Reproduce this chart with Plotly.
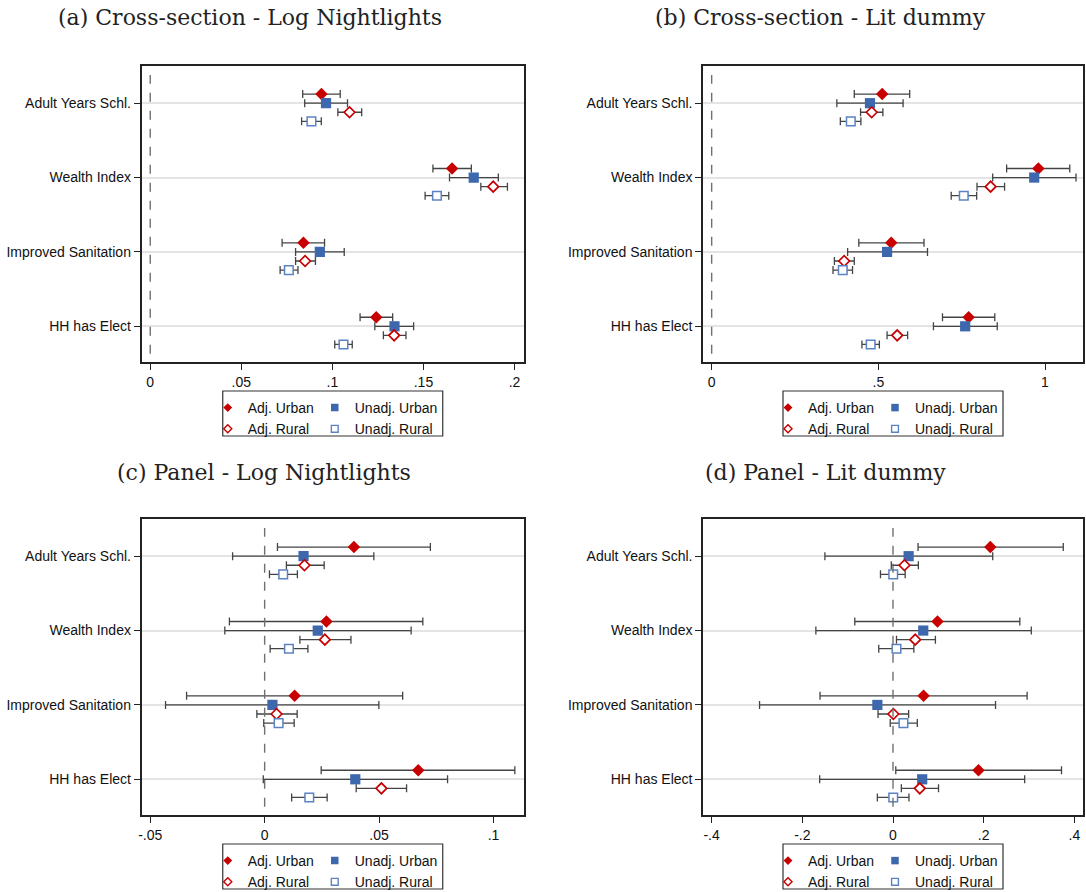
import plotly.graph_objects as go

# ---- data -------------------------------------------------------------
categories = ["Adult Years Schl.", "Wealth Index", "Improved Sanitation", "HH has Elect"]
series_names = ["Adj. Urban", "Unadj. Urban", "Adj. Rural", "Unadj. Rural"]

# (a) Cross-section - Log Nightlights
a_adj_urban = [0.0940, 0.1657, 0.0841, 0.1241]
a_adj_urban_lo = [0.0837, 0.1552, 0.0724, 0.1152]
a_adj_urban_hi = [0.1043, 0.1763, 0.0957, 0.1331]
a_unadj_urban = [0.0965, 0.1776, 0.0931, 0.1341]
a_unadj_urban_lo = [0.0848, 0.1643, 0.0798, 0.1233]
a_unadj_urban_hi = [0.1083, 0.1911, 0.1065, 0.1446]
a_adj_rural = [0.1094, 0.1883, 0.0850, 0.1339]
a_adj_rural_lo = [0.1030, 0.1815, 0.0798, 0.1280]
a_adj_rural_hi = [0.1161, 0.1961, 0.0907, 0.1404]
a_unadj_rural = [0.0885, 0.1574, 0.0761, 0.1061]
a_unadj_rural_lo = [0.0831, 0.1509, 0.0713, 0.1013]
a_unadj_rural_hi = [0.0939, 0.1639, 0.0811, 0.1109]

# (b) Cross-section - Lit dummy
b_adj_urban = [0.5115, 0.9801, 0.5387, 0.7709]
b_adj_urban_lo = [0.4278, 0.8849, 0.4414, 0.6925]
b_adj_urban_hi = [0.5941, 1.0743, 0.6370, 0.8494]
b_unadj_urban = [0.4749, 0.9676, 0.5262, 0.7605]
b_unadj_urban_lo = [0.3755, 0.8431, 0.4079, 0.6653]
b_unadj_urban_hi = [0.5743, 1.0931, 0.6475, 0.8567]
b_adj_rural = [0.4801, 0.8368, 0.3975, 0.5565]
b_adj_rural_lo = [0.4467, 0.7960, 0.3682, 0.5262]
b_adj_rural_hi = [0.5136, 0.8787, 0.4278, 0.5879]
b_unadj_rural = [0.4174, 0.7563, 0.3933, 0.4770]
b_unadj_rural_lo = [0.3860, 0.7186, 0.3640, 0.4508]
b_unadj_rural_hi = [0.4477, 0.7950, 0.4226, 0.5031]

# (c) Panel - Log Nightlights
c_adj_urban = [0.0390, 0.0270, 0.0131, 0.0671]
c_adj_urban_lo = [0.0056, -0.0154, -0.0341, 0.0247]
c_adj_urban_hi = [0.0724, 0.0691, 0.0603, 0.1093]
c_unadj_urban = [0.0170, 0.0232, 0.0034, 0.0396]
c_unadj_urban_lo = [-0.0140, -0.0174, -0.0433, -0.0006]
c_unadj_urban_hi = [0.0477, 0.0640, 0.0499, 0.0799]
c_adj_rural = [0.0174, 0.0263, 0.0052, 0.0510]
c_adj_rural_lo = [0.0095, 0.0154, -0.0034, 0.0400]
c_adj_rural_hi = [0.0260, 0.0377, 0.0142, 0.0620]
c_unadj_rural = [0.0081, 0.0106, 0.0061, 0.0195]
c_unadj_rural_lo = [0.0021, 0.0024, -0.0004, 0.0118]
c_unadj_rural_hi = [0.0143, 0.0189, 0.0129, 0.0273]

# (d) Panel - Lit dummy
d_adj_urban = [0.2146, 0.0981, 0.0674, 0.1885]
d_adj_urban_lo = [0.0552, -0.0843, -0.1609, 0.0061]
d_adj_urban_hi = [0.3755, 0.2797, 0.2958, 0.3716]
d_unadj_urban = [0.0345, 0.0667, -0.0345, 0.0644]
d_unadj_urban_lo = [-0.1502, -0.1701, -0.2943, -0.1617]
d_unadj_urban_hi = [0.2199, 0.3050, 0.2261, 0.2904]
d_adj_rural = [0.0253, 0.0490, 0.0008, 0.0590]
d_adj_rural_lo = [-0.0038, 0.0077, -0.0330, 0.0184]
d_adj_rural_hi = [0.0559, 0.0935, 0.0345, 0.1004]
d_unadj_rural = [0.0005, 0.0077, 0.0230, 0.0005]
d_unadj_rural_lo = [-0.0276, -0.0314, -0.0061, -0.0345]
d_unadj_rural_hi = [0.0268, 0.0460, 0.0536, 0.0352]

# axis ticks
a_ticks = [0, 0.05, 0.1, 0.15, 0.2]
a_ticklabels = ["0", ".05", ".1", ".15", ".2"]
b_ticks = [0, 0.5, 1]
b_ticklabels = ["0", ".5", "1"]
c_ticks = [-0.05, 0, 0.05, 0.1]
c_ticklabels = ["-.05", "0", ".05", ".1"]
d_ticks = [-0.4, -0.2, 0, 0.2, 0.4]
d_ticklabels = ["-.4", "-.2", "0", ".2", ".4"]

# ---- layout geometry (pixels) ---------------------------------------
W, H = 1086, 892
RED = "#c80000"
BLUE = "#3d68ad"
LBLUE = "#5b82c2"
BAR = "#444444"
SANS = "Liberation Sans, Arial, sans-serif"
SERIF = "DejaVu Serif, serif"


def px_x(p):
    return p / W


def px_y(p):
    return 1 - p / H


panels = [
    dict(title="(a) Cross-section - Log Nightlights",
         series=[(a_adj_urban, a_adj_urban_lo, a_adj_urban_hi),
                 (a_unadj_urban, a_unadj_urban_lo, a_unadj_urban_hi),
                 (a_adj_rural, a_adj_rural_lo, a_adj_rural_hi),
                 (a_unadj_rural, a_unadj_rural_lo, a_unadj_rural_hi)],
         xrange=[-0.0048, 0.2052], ticks=a_ticks, labels=a_ticklabels,
         box=(141.5, 66, 524, 362), title_x=250, title_y=18, leg_top=391),
    dict(title="(b) Cross-section - Lit dummy",
         series=[(b_adj_urban, b_adj_urban_lo, b_adj_urban_hi),
                 (b_unadj_urban, b_unadj_urban_lo, b_unadj_urban_hi),
                 (b_adj_rural, b_adj_rural_lo, b_adj_rural_hi),
                 (b_unadj_rural, b_unadj_rural_lo, b_unadj_rural_hi)],
         xrange=[-0.026, 1.114], ticks=b_ticks, labels=b_ticklabels,
         box=(703, 66, 1083, 362), title_x=820, title_y=18, leg_top=391),
    dict(title="(c) Panel - Log Nightlights",
         series=[(c_adj_urban, c_adj_urban_lo, c_adj_urban_hi),
                 (c_unadj_urban, c_unadj_urban_lo, c_unadj_urban_hi),
                 (c_adj_rural, c_adj_rural_lo, c_adj_rural_hi),
                 (c_unadj_rural, c_unadj_rural_lo, c_unadj_rural_hi)],
         xrange=[-0.0538, 0.1133], ticks=c_ticks, labels=c_ticklabels,
         box=(141.5, 519, 524, 815), title_x=264, title_y=472, leg_top=844),
    dict(title="(d) Panel - Lit dummy",
         series=[(d_adj_urban, d_adj_urban_lo, d_adj_urban_hi),
                 (d_unadj_urban, d_unadj_urban_lo, d_unadj_urban_hi),
                 (d_adj_rural, d_adj_rural_lo, d_adj_rural_hi),
                 (d_unadj_rural, d_unadj_rural_lo, d_unadj_rural_hi)],
         xrange=[-0.419, 0.419], ticks=d_ticks, labels=d_ticklabels,
         box=(703, 519, 1083, 815), title_x=825, title_y=472, leg_top=844),
]

# marker style and vertical offset for each series
styles = [
    dict(symbol="diamond", size=9.6, fill=RED, edge=RED, lw=0, off=0.122, col=0),
    dict(symbol="square", size=10.2, fill=BLUE, edge=BLUE, lw=0, off=0.0, col=1),
    dict(symbol="diamond", size=8.2, fill="white", edge=RED, lw=1.7, off=-0.122, col=0),
    dict(symbol="square", size=8.6, fill="white", edge=LBLUE, lw=1.5, off=-0.244, col=1),
]
legend_sizes = [6.8, 7.5, 6.2, 6.8]

cat_pos = [3, 2, 1, 0]

fig = go.Figure()
layout = dict(width=W, height=H, margin=dict(l=0, r=0, t=0, b=0, autoexpand=False),
              paper_bgcolor="white", plot_bgcolor="white",
              font=dict(family=SANS, size=14, color="#111"))
shapes = []
annotations = []

for i, p in enumerate(panels):
    n = i + 1
    xa = "x" if n == 1 else f"x{n}"
    ya = "y" if n == 1 else f"y{n}"
    xkey = "xaxis" if n == 1 else f"xaxis{n}"
    ykey = "yaxis" if n == 1 else f"yaxis{n}"
    x0, y0, x1, y1 = p["box"]

    for k, ((est, lo, hi), st) in enumerate(zip(p["series"], styles)):
        fig.add_trace(go.Scatter(
            x=est,
            y=[c + st["off"] for c in cat_pos],
            mode="markers",
            name=series_names[k],
            marker=dict(symbol=st["symbol"], size=st["size"], color=st["fill"],
                        line=dict(width=st["lw"], color=st["edge"])),
            error_x=dict(type="data", symmetric=False,
                         array=[h - e for h, e in zip(hi, est)],
                         arrayminus=[e - l for e, l in zip(est, lo)],
                         color=BAR, thickness=1.3, width=4),
            xaxis=xa, yaxis=ya, showlegend=False,
        ))

    # legend keys (smaller symbols than the plotted markers)
    for k, st in enumerate(styles):
        leg_idx = 2 * i + st["col"] + 1
        leg = "legend" if leg_idx == 1 else f"legend{leg_idx}"
        fig.add_trace(go.Scatter(
            x=[None], y=[None], mode="markers", name=series_names[k],
            marker=dict(symbol=st["symbol"], size=legend_sizes[k], color=st["fill"],
                        line=dict(width=min(st["lw"], 1.4), color=st["edge"])),
            xaxis=xa, yaxis=ya, legend=leg, showlegend=True,
        ))

    layout[xkey] = dict(domain=[px_x(x0), px_x(x1)], range=p["xrange"], anchor=ya,
                        tickvals=p["ticks"], ticktext=p["labels"],
                        ticks="outside", ticklen=6, tickwidth=1.2, tickcolor="#222",
                        showline=True, linecolor="#222", linewidth=1.5, mirror=True,
                        showgrid=False, zeroline=False,
                        tickfont=dict(family=SANS, size=14, color="#111"))
    layout[ykey] = dict(domain=[px_y(y1), px_y(y0)], range=[-0.48, 3.5], anchor=xa,
                        tickvals=cat_pos, ticktext=categories,
                        ticks="outside", ticklen=6, tickwidth=1.2, tickcolor="#222",
                        showline=True, linecolor="#222", linewidth=1.5, mirror=True,
                        showgrid=True, gridcolor="#e4e4e4", gridwidth=2,
                        zeroline=False,
                        tickfont=dict(family=SANS, size=14, color="#111"))

    # reference line at zero
    shapes.append(dict(type="line", xref=xa, yref=ya, x0=0, x1=0, y0=-0.37, y1=3.38,
                       line=dict(color="#707070", width=1.4, dash="dash"), layer="above"))

    # panel title
    annotations.append(dict(text=p["title"], xref="paper", yref="paper",
                            x=px_x(p["title_x"]), y=px_y(p["title_y"]),
                            xanchor="center", yanchor="middle",
                            showarrow=False, font=dict(family=SERIF, size=22, color="#222")))

    # legend frame and its two columns
    cx = (x0 + x1) / 2
    lx0, lx1 = cx - 110, cx + 110
    ly0 = p["leg_top"]
    ly1 = ly0 + 45
    shapes.append(dict(type="rect", xref="paper", yref="paper",
                       x0=px_x(lx0), x1=px_x(lx1), y0=px_y(ly1), y1=px_y(ly0),
                       line=dict(color="#333", width=1.2), fillcolor="rgba(0,0,0,0)"))
    for col, xoff in enumerate([lx0 - 15, lx0 + 92]):
        leg_idx = 2 * i + col + 1
        lkey = "legend" if leg_idx == 1 else f"legend{leg_idx}"
        layout[lkey] = dict(x=px_x(xoff), y=px_y(ly0 + 1), xanchor="left", yanchor="top",
                            xref="paper", yref="paper", orientation="v",
                            bgcolor="rgba(0,0,0,0)", borderwidth=0, tracegroupgap=0,
                            font=dict(family=SANS, size=14, color="#111"))

layout["shapes"] = shapes
layout["annotations"] = annotations
layout["showlegend"] = True
fig.update_layout(**layout)

fig.write_html("out.html")
